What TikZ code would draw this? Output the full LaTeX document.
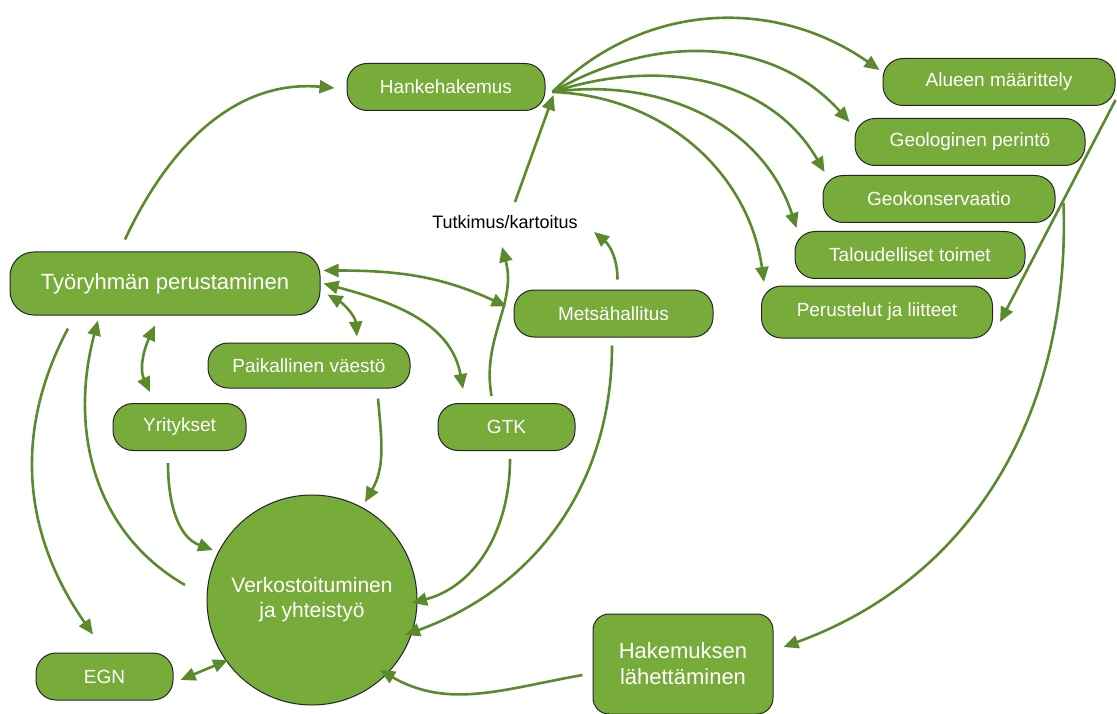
\documentclass[tikz,border=0pt]{standalone}
\usepackage{fontspec}
\setmainfont{Liberation Sans}
\usetikzlibrary{arrows.meta}
\definecolor{leaf}{HTML}{77AB3A}
\definecolor{stem}{HTML}{5A8A2C}
\begin{document}
\begin{tikzpicture}[x=0.5pt,y=0.5pt,>={Triangle[length=7.5pt,width=6.5pt]},
    box/.style={draw=black!85,line width=0.5pt,fill=leaf,text=white,rounded corners=10pt,
      minimum height=23.5pt,inner sep=0pt,font=\fontsize{9.5}{11}\selectfont},
    link/.style={->,stem,line width=1.3pt},
    both/.style={<->,stem,line width=1.3pt}]
    \useasboundingbox (0,0) rectangle (1117,713);
    % boxes
    \node [box,minimum width=99pt] (hanke) at (446,626) {Hankehakemus};
    \node [box,minimum width=116pt] (alue) at (999,631) {Alueen määrittely};
    \node [box,minimum width=115pt] (geoper) at (970,571) {Geologinen perintö};
    \node [box,minimum width=116pt] (geokon) at (939,514) {Geokonservaatio};
    \node [box,minimum width=115pt] (talous) at (910,458) {Taloudelliset toimet};
    \node [box,minimum width=115.5pt,minimum height=26pt] (perust) at (877,401) {Perustelut ja liitteet};
    \node [box,minimum width=155pt,minimum height=31.5pt,rounded corners=12pt,
      font=\fontsize{11}{13}\selectfont] (tyo) at (165,429.5) {Työryhmän perustaminen};
    \node [box,minimum width=99.5pt] (metsa) at (613.5,399.5) {Metsähallitus};
    \node [box,minimum width=101pt,minimum height=22.5pt] (paik) at (309,347.5) {Paikallinen väestö};
    \node [box,minimum width=66.5pt] (yrit) at (179.5,286) {Yritykset};
    \node [box,minimum width=68.5pt] (gtk) at (506.5,286) {GTK};
    \node [box,minimum width=68.5pt] (egn) at (104.5,36.5) {EGN};
    \node [box,minimum width=90pt,minimum height=50pt,rounded corners=8pt,align=center,
      font=\fontsize{11}{13}\selectfont] (lahet) at (683,49) {Hakemuksen\\lähettäminen};
    \node [draw=black!85,line width=0.5pt,fill=leaf,text=white,circle,minimum size=105pt,
      inner sep=0pt,align=center,font=\fontsize{10.5}{12.5}\selectfont] (verkko) at (312,113)
      {Verkostoituminen\\ja yhteistyö};
    \node [font=\fontsize{9}{11}\selectfont] (tutk) at (505,491) {Tutkimus/kartoitus};
    % hakemus and its parts
    \draw [link] ([shift={(-40,12)}]tyo.north) to[out=65,in=175] ([shift={(-12,-1)}]hanke.west);
    \draw [link] ([shift={(7,-5)}]hanke.east) to[out=45,in=145] ([shift={(-3,12)}]alue.west);
    \draw [link] ([shift={(7,-5)}]hanke.east) to[out=30,in=132] ([shift={(-5,20)}]geoper.west);
    \draw [link] ([shift={(7,-5)}]hanke.east) to[out=18,in=120] ([shift={(2,27)}]geokon.west);
    \draw [link] ([shift={(7,-5)}]hanke.east) to[out=8,in=108] ([shift={(2,27)}]talous.west);
    \draw [link] ([shift={(7,-5)}]hanke.east) to[out=-2,in=98] ([shift={(3,30)}]perust.west);
    \draw [link] ([shift={(0,-18)}]alue.east) -- ([shift={(7,-10)}]perust.east);
    \draw [link] ([shift={(8,-4)}]geokon.east) to[out=-88,in=20] ([shift={(10,17)}]lahet.east);
    % research
    \draw [link] ([shift={(10,20)}]tutk.center) -- ([shift={(8,-8)}]hanke.east);
    \draw [link] ([shift={(-15,7)}]gtk.north) to[out=100,in=-75] ([shift={(-3,-25)}]tutk.center);
    \draw [link] ([shift={(4,10)}]metsa.north) to[out=90,in=-40] ([shift={(89,-10)}]tutk.center);
    % tyoryhma
    \draw [both] ([shift={(3,13)}]tyo.east) to[out=0,in=155] ([shift={(-7,7)}]metsa.west);
    \draw [both] ([shift={(3,0)}]tyo.east) to[out=-15,in=100] ([shift={(-43.5,14)}]gtk.north);
    \draw [both] ([shift={(7,-11)}]tyo.east) to[out=-30,in=95] ([shift={(48,6)}]paik.north);
    \draw [both] ([shift={(-10,-10)}]tyo.south) to[out=-115,in=115] ([shift={(-29.5,11)}]yrit.north);
    \draw [link] ([shift={(-97,-13)}]tyo.south) to[out=-118,in=125] ([shift={(-11.5,18)}]egn.north);
    \draw [link] ([shift={(-127,15)}]verkko.center) to[out=150,in=-105] ([shift={(-67,-5)}]tyo.south);
    % verkostoituminen
    \draw [link] ([shift={(-11.5,-12)}]yrit.south) to[out=-90,in=160] ([shift={(-99,50)}]verkko.center);
    \draw [link] ([shift={(69,-10)}]paik.south) to[out=-85,in=60] ([shift={(53,98)}]verkko.center);
    \draw [link] ([shift={(3.5,-8)}]gtk.south) to[out=-90,in=15] ([shift={(100,-3)}]verkko.center);
    \draw [link] ([shift={(-1.5,-8)}]metsa.south) to[out=-90,in=20] ([shift={(93,-35)}]verkko.center);
    \draw [link] ([shift={(-10,-11)}]lahet.west) to[out=-170,in=-30] ([shift={(68,-70)}]verkko.center);
    \draw [both] ([shift={(7,-3.5)}]egn.east) -- ([shift={(-84,-60)}]verkko.center);
\end{tikzpicture}
\end{document}
